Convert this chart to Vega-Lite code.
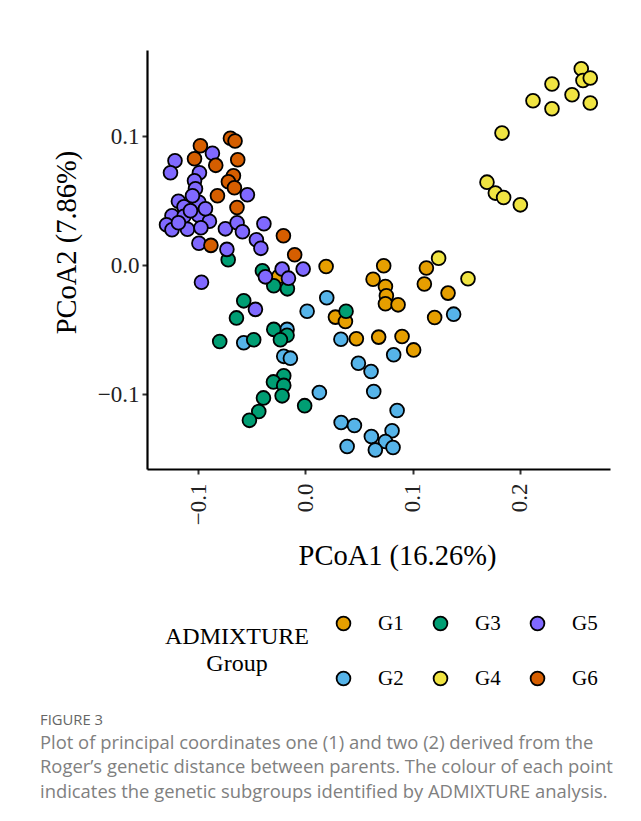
{
  "$schema": "https://vega.github.io/schema/vega-lite/v6.json",
  "autosize": {"type": "none"},
  "padding": {"left": 147, "top": 50, "right": 31, "bottom": 352},
  "width": 463,
  "height": 419,
  "background": "white",
  "title": {
    "text": "FIGURE 3",
    "subtitle": [
      "Plot of principal coordinates one (1) and two (2) derived from the",
      "Roger’s genetic distance between parents. The colour of each point",
      "indicates the genetic subgroups identified by ADMIXTURE analysis."
    ],
    "orient": "bottom",
    "anchor": "start",
    "frame": "group",
    "dx": -107,
    "offset": 24,
    "font": "Open Sans",
    "fontSize": 14.8,
    "fontWeight": "normal",
    "color": "#666666",
    "subtitleFont": "Open Sans",
    "subtitleFontSize": 18.4,
    "subtitleColor": "#808080",
    "subtitleLineHeight": 24.5,
    "subtitlePadding": 6
  },
  "data": {
    "values": [
      {"PCoA1": 0.0199, "PCoA2": -0.0253, "Group": "G2"},
      {"PCoA1": 0.0016, "PCoA2": -0.0358, "Group": "G2"},
      {"PCoA1": -0.0575, "PCoA2": -0.0602, "Group": "G2"},
      {"PCoA1": -0.0171, "PCoA2": -0.0498, "Group": "G2"},
      {"PCoA1": -0.0202, "PCoA2": -0.0707, "Group": "G2"},
      {"PCoA1": -0.0140, "PCoA2": -0.0721, "Group": "G2"},
      {"PCoA1": 0.0130, "PCoA2": -0.0988, "Group": "G2"},
      {"PCoA1": 0.0331, "PCoA2": -0.0575, "Group": "G2"},
      {"PCoA1": 0.0494, "PCoA2": -0.0760, "Group": "G2"},
      {"PCoA1": 0.0612, "PCoA2": -0.0825, "Group": "G2"},
      {"PCoA1": 0.0637, "PCoA2": -0.0980, "Group": "G2"},
      {"PCoA1": 0.0855, "PCoA2": -0.1127, "Group": "G2"},
      {"PCoA1": 0.0333, "PCoA2": -0.1220, "Group": "G2"},
      {"PCoA1": 0.0457, "PCoA2": -0.1243, "Group": "G2"},
      {"PCoA1": 0.0389, "PCoA2": -0.1406, "Group": "G2"},
      {"PCoA1": 0.0615, "PCoA2": -0.1329, "Group": "G2"},
      {"PCoA1": 0.0808, "PCoA2": -0.1284, "Group": "G2"},
      {"PCoA1": 0.0746, "PCoA2": -0.1367, "Group": "G2"},
      {"PCoA1": 0.0652, "PCoA2": -0.1432, "Group": "G2"},
      {"PCoA1": 0.0817, "PCoA2": -0.1414, "Group": "G2"},
      {"PCoA1": 0.0823, "PCoA2": -0.0695, "Group": "G2"},
      {"PCoA1": 0.1382, "PCoA2": -0.0380, "Group": "G2"},
      {"PCoA1": 0.0193, "PCoA2": -0.0011, "Group": "G1"},
      {"PCoA1": 0.0730, "PCoA2": -0.0005, "Group": "G1"},
      {"PCoA1": 0.0631, "PCoA2": -0.0109, "Group": "G1"},
      {"PCoA1": 0.0746, "PCoA2": -0.0166, "Group": "G1"},
      {"PCoA1": 0.0755, "PCoA2": -0.0238, "Group": "G1"},
      {"PCoA1": 0.0746, "PCoA2": -0.0300, "Group": "G1"},
      {"PCoA1": 0.0864, "PCoA2": -0.0308, "Group": "G1"},
      {"PCoA1": 0.1128, "PCoA2": -0.0023, "Group": "G1"},
      {"PCoA1": 0.1109, "PCoA2": -0.0147, "Group": "G1"},
      {"PCoA1": 0.1330, "PCoA2": -0.0217, "Group": "G1"},
      {"PCoA1": 0.1205, "PCoA2": -0.0406, "Group": "G1"},
      {"PCoA1": 0.0280, "PCoA2": -0.0403, "Group": "G1"},
      {"PCoA1": 0.0373, "PCoA2": -0.0437, "Group": "G1"},
      {"PCoA1": 0.0475, "PCoA2": -0.0571, "Group": "G1"},
      {"PCoA1": 0.0683, "PCoA2": -0.0558, "Group": "G1"},
      {"PCoA1": 0.0901, "PCoA2": -0.0553, "Group": "G1"},
      {"PCoA1": 0.1009, "PCoA2": -0.0657, "Group": "G1"},
      {"PCoA1": -0.0249, "PCoA2": -0.0088, "Group": "G1"},
      {"PCoA1": 0.2572, "PCoA2": 0.1522, "Group": "G4"},
      {"PCoA1": 0.2588, "PCoA2": 0.1431, "Group": "G4"},
      {"PCoA1": 0.2656, "PCoA2": 0.1450, "Group": "G4"},
      {"PCoA1": 0.2299, "PCoA2": 0.1403, "Group": "G4"},
      {"PCoA1": 0.2486, "PCoA2": 0.1320, "Group": "G4"},
      {"PCoA1": 0.2122, "PCoA2": 0.1274, "Group": "G4"},
      {"PCoA1": 0.2299, "PCoA2": 0.1212, "Group": "G4"},
      {"PCoA1": 0.2656, "PCoA2": 0.1256, "Group": "G4"},
      {"PCoA1": 0.1833, "PCoA2": 0.1023, "Group": "G4"},
      {"PCoA1": 0.1693, "PCoA2": 0.0643, "Group": "G4"},
      {"PCoA1": 0.1771, "PCoA2": 0.0558, "Group": "G4"},
      {"PCoA1": 0.1848, "PCoA2": 0.0524, "Group": "G4"},
      {"PCoA1": 0.2004, "PCoA2": 0.0467, "Group": "G4"},
      {"PCoA1": 0.1242, "PCoA2": 0.0054, "Group": "G4"},
      {"PCoA1": 0.1516, "PCoA2": -0.0106, "Group": "G4"},
      {"PCoA1": -0.0720, "PCoA2": 0.0041, "Group": "G3"},
      {"PCoA1": -0.0401, "PCoA2": -0.0044, "Group": "G3"},
      {"PCoA1": -0.0295, "PCoA2": -0.0160, "Group": "G3"},
      {"PCoA1": -0.0168, "PCoA2": -0.0184, "Group": "G3"},
      {"PCoA1": -0.0575, "PCoA2": -0.0277, "Group": "G3"},
      {"PCoA1": -0.0643, "PCoA2": -0.0409, "Group": "G3"},
      {"PCoA1": -0.0799, "PCoA2": -0.0592, "Group": "G3"},
      {"PCoA1": -0.0482, "PCoA2": -0.0579, "Group": "G3"},
      {"PCoA1": -0.0295, "PCoA2": -0.0498, "Group": "G3"},
      {"PCoA1": -0.0171, "PCoA2": -0.0544, "Group": "G3"},
      {"PCoA1": -0.0233, "PCoA2": -0.0579, "Group": "G3"},
      {"PCoA1": -0.0202, "PCoA2": -0.0858, "Group": "G3"},
      {"PCoA1": -0.0298, "PCoA2": -0.0905, "Group": "G3"},
      {"PCoA1": -0.0202, "PCoA2": -0.0932, "Group": "G3"},
      {"PCoA1": -0.0217, "PCoA2": -0.1013, "Group": "G3"},
      {"PCoA1": -0.0391, "PCoA2": -0.1029, "Group": "G3"},
      {"PCoA1": -0.0435, "PCoA2": -0.1135, "Group": "G3"},
      {"PCoA1": -0.0522, "PCoA2": -0.1203, "Group": "G3"},
      {"PCoA1": -0.0007, "PCoA2": -0.1089, "Group": "G3"},
      {"PCoA1": 0.0379, "PCoA2": -0.0358, "Group": "G3"},
      {"PCoA1": -0.0867, "PCoA2": 0.0867, "Group": "G5"},
      {"PCoA1": -0.1216, "PCoA2": 0.0809, "Group": "G5"},
      {"PCoA1": -0.1258, "PCoA2": 0.0716, "Group": "G5"},
      {"PCoA1": -0.0988, "PCoA2": 0.0716, "Group": "G5"},
      {"PCoA1": -0.1034, "PCoA2": 0.0653, "Group": "G5"},
      {"PCoA1": -0.1025, "PCoA2": 0.0591, "Group": "G5"},
      {"PCoA1": -0.0541, "PCoA2": 0.0545, "Group": "G5"},
      {"PCoA1": -0.1184, "PCoA2": 0.0495, "Group": "G5"},
      {"PCoA1": -0.0993, "PCoA2": 0.0487, "Group": "G5"},
      {"PCoA1": -0.1132, "PCoA2": 0.0452, "Group": "G5"},
      {"PCoA1": -0.1244, "PCoA2": 0.0382, "Group": "G5"},
      {"PCoA1": -0.1132, "PCoA2": 0.0378, "Group": "G5"},
      {"PCoA1": -0.0997, "PCoA2": 0.0386, "Group": "G5"},
      {"PCoA1": -0.0895, "PCoA2": 0.0340, "Group": "G5"},
      {"PCoA1": -0.1295, "PCoA2": 0.0312, "Group": "G5"},
      {"PCoA1": -0.1244, "PCoA2": 0.0274, "Group": "G5"},
      {"PCoA1": -0.1100, "PCoA2": 0.0278, "Group": "G5"},
      {"PCoA1": -0.0974, "PCoA2": 0.0289, "Group": "G5"},
      {"PCoA1": -0.0746, "PCoA2": 0.0281, "Group": "G5"},
      {"PCoA1": -0.0637, "PCoA2": 0.0328, "Group": "G5"},
      {"PCoA1": -0.0587, "PCoA2": 0.0258, "Group": "G5"},
      {"PCoA1": -0.0387, "PCoA2": 0.0320, "Group": "G5"},
      {"PCoA1": -0.0993, "PCoA2": 0.0169, "Group": "G5"},
      {"PCoA1": -0.0457, "PCoA2": 0.0196, "Group": "G5"},
      {"PCoA1": -0.0415, "PCoA2": 0.0130, "Group": "G5"},
      {"PCoA1": -0.0732, "PCoA2": 0.0122, "Group": "G5"},
      {"PCoA1": -0.0969, "PCoA2": -0.0133, "Group": "G5"},
      {"PCoA1": -0.0466, "PCoA2": -0.0343, "Group": "G5"},
      {"PCoA1": -0.0373, "PCoA2": -0.0091, "Group": "G5"},
      {"PCoA1": -0.0217, "PCoA2": -0.0031, "Group": "G5"},
      {"PCoA1": -0.0158, "PCoA2": -0.0101, "Group": "G5"},
      {"PCoA1": -0.0021, "PCoA2": -0.0031, "Group": "G5"},
      {"PCoA1": -0.1072, "PCoA2": 0.0421, "Group": "G5"},
      {"PCoA1": -0.1184, "PCoA2": 0.0328, "Group": "G5"},
      {"PCoA1": -0.1053, "PCoA2": 0.0537, "Group": "G5"},
      {"PCoA1": -0.0932, "PCoA2": 0.0436, "Group": "G5"},
      {"PCoA1": -0.0699, "PCoA2": 0.0983, "Group": "G6"},
      {"PCoA1": -0.0656, "PCoA2": 0.0962, "Group": "G6"},
      {"PCoA1": -0.0979, "PCoA2": 0.0925, "Group": "G6"},
      {"PCoA1": -0.1034, "PCoA2": 0.0824, "Group": "G6"},
      {"PCoA1": -0.0836, "PCoA2": 0.0773, "Group": "G6"},
      {"PCoA1": -0.0631, "PCoA2": 0.0816, "Group": "G6"},
      {"PCoA1": -0.0671, "PCoA2": 0.0692, "Group": "G6"},
      {"PCoA1": -0.0718, "PCoA2": 0.0646, "Group": "G6"},
      {"PCoA1": -0.0662, "PCoA2": 0.0599, "Group": "G6"},
      {"PCoA1": -0.0820, "PCoA2": 0.0537, "Group": "G6"},
      {"PCoA1": -0.0638, "PCoA2": 0.0447, "Group": "G6"},
      {"PCoA1": -0.0881, "PCoA2": 0.0153, "Group": "G6"},
      {"PCoA1": -0.0205, "PCoA2": 0.0227, "Group": "G6"},
      {"PCoA1": -0.0100, "PCoA2": 0.0080, "Group": "G6"}
    ]
  },
  "mark": {"type": "circle", "size": 190, "opacity": 1, "stroke": "black", "strokeWidth": 1.8},
  "encoding": {
    "x": {
      "field": "PCoA1",
      "type": "quantitative",
      "title": "PCoA1 (16.26%)",
      "scale": {"domain": [-0.1477, 0.284], "nice": false, "zero": false},
      "axis": {"values": [-0.1, 0, 0.1, 0.2], "format": ".1f", "labelAngle": -90, "labelAlign": "right", "labelBaseline": "middle", "labelPadding": 9, "titlePadding": 17, "titleX": 250}
    },
    "y": {
      "field": "PCoA2",
      "type": "quantitative",
      "title": "PCoA2 (7.86%)",
      "scale": {"domain": [-0.158, 0.1667], "nice": false, "zero": false},
      "axis": {"values": [-0.1, 0, 0.1], "format": ".1f", "labelPadding": 3, "titlePadding": 16, "titleY": 192}
    },
    "fill": {
      "field": "Group",
      "type": "nominal",
      "scale": {
        "domain": ["G1", "G3", "G5", "G2", "G4", "G6"],
        "range": ["#E69F00", "#009E73", "#8069FF", "#56B4E9", "#F0E442", "#D55E00"]
      },
      "legend": {
        "title": ["ADMIXTURE", "Group"],
        "orient": "none",
        "legendX": 18,
        "legendY": 563,
        "direction": "horizontal",
        "columns": 3,
        "titleOrient": "left",
        "titleAnchor": "middle",
        "titleAlign": "center",
        "titleBaseline": "middle",
        "titleFont": "Liberation Serif",
        "titleFontSize": 24,
        "titleFontWeight": "normal",
        "titleColor": "black",
        "titlePadding": -48,
        "titleLineHeight": 27,
        "labelFont": "Liberation Serif",
        "labelFontSize": 21,
        "labelColor": "black",
        "labelOffset": 24,
        "symbolType": "circle",
        "symbolSize": 190,
        "symbolStrokeColor": "black",
        "symbolStrokeWidth": 1.8,
        "symbolOpacity": 1,
        "rowPadding": 33,
        "columnPadding": 26
      }
    }
  },
  "config": {
    "view": {"stroke": null},
    "axis": {
      "grid": false,
      "domainColor": "black",
      "domainWidth": 2.2,
      "tickColor": "#333333",
      "tickWidth": 2,
      "tickSize": 5,
      "labelFont": "Liberation Serif",
      "labelFontSize": 23,
      "labelColor": "#222222",
      "titleFont": "Liberation Serif",
      "titleFontSize": 28.5,
      "titleFontWeight": "normal",
      "titleColor": "black"
    }
  }
}
